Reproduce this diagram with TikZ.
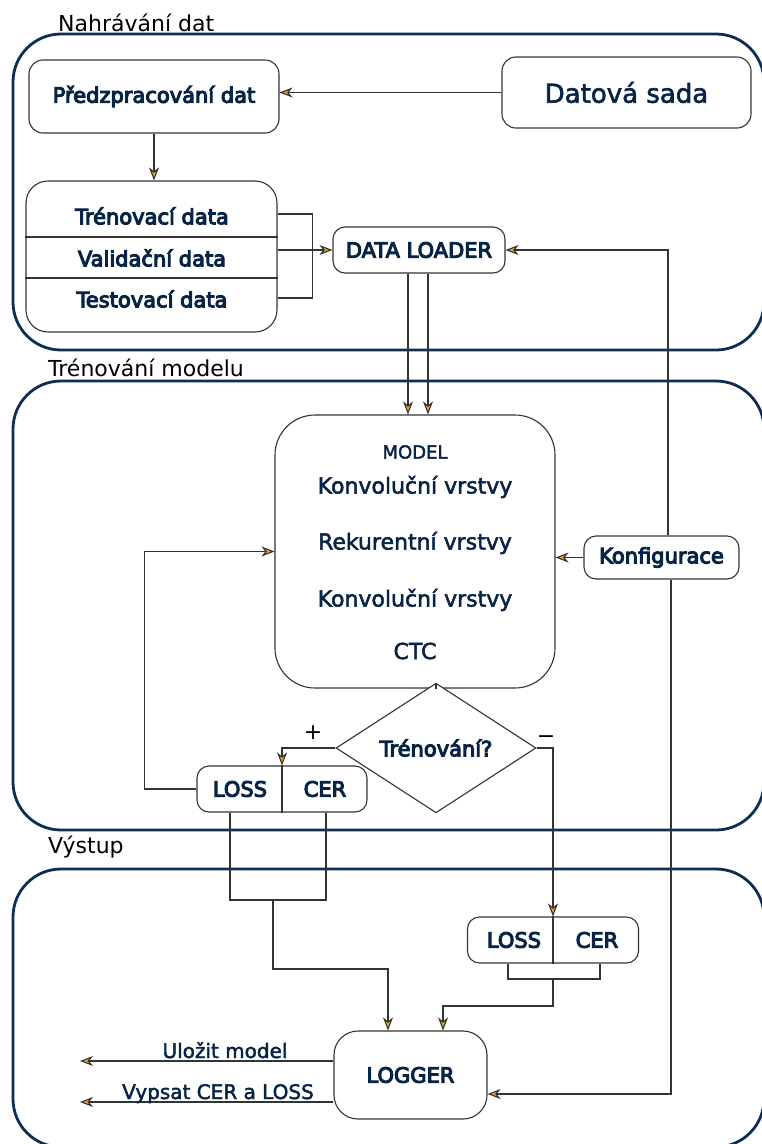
\documentclass[tikz,border=0pt]{standalone}
\usepackage{fontspec}
\setmainfont{DejaVu Sans}
\newfontfamily\heavyfont{DejaVu Sans}[FakeBold=5]
\newfontfamily\mediumfont{DejaVu Sans}[FakeBold=2.2]
\usetikzlibrary{arrows.meta,shapes.geometric}
\begin{document}
\begin{tikzpicture}[x=1pt,y=-1pt,
  frame/.style={draw=framec,line width=2.8pt,rounded corners=48},
  box/.style={draw=edge,line width=1.1pt,rounded corners=14,fill=white,inner sep=0pt},
  lbl/.style={text=ink,font=\heavyfont\fontsize{21}{25}\selectfont},
  lyr/.style={text=ink,font=\mediumfont\fontsize{22}{26}\selectfont},
  grp/.style={text=black,font=\fontsize{22}{26}\selectfont,anchor=base west,inner sep=0pt},
  sgn/.style={text=black,font=\fontsize{22}{26}\selectfont,inner sep=0pt},
  wire/.style={draw=edge,line width=1.1pt},
  flow/.style={wire,-{Stealth[length=13pt,width=10pt,inset=4pt,fill=tip]}}]
\definecolor{ink}{HTML}{082444}\definecolor{framec}{HTML}{0E2D52}
\definecolor{edge}{HTML}{333333}\definecolor{tip}{HTML}{F5A21E}
\useasboundingbox (0,0) rectangle (761,1144);
\draw[frame] (13,34) rectangle (764,350);
\draw[frame] (13,381) rectangle (764,830);
\draw[frame] (13,869) rectangle (764,1147);
\node[grp] (gload) at (58,31) {Nahrávání dat};
\node[grp] (gtrain) at (48,376) {Trénování modelu};
\node[grp] (gout) at (48,853) {Výstup};
\node[box,lbl,minimum width=250,minimum height=73] (prep) at (154,96.5) {Předzpracování dat};
\node[box,lyr,font=\mediumfont\fontsize{26}{30}\selectfont,minimum width=249,minimum height=71] (dataset) at (626.5,92.5) {Datová sada};
\node[box,rounded corners=22,minimum width=251,minimum height=151] (split) at (151.5,256.5) {};
\draw[wire] (split.west |- 0,237) -- (split.east |- 0,237);
\draw[wire] (split.west |- 0,278) -- (split.east |- 0,278);
\node[lbl] (trainset) at (152,216) {Trénovací data};
\node[lbl] (valset) at (152,258) {Validační data};
\node[lbl] (testset) at (152,299) {Testovací data};
\node[box,lbl,rounded corners=12,minimum width=172,minimum height=46] (loader) at (419,250) {DATA LOADER};
\node[box,rounded corners=40,minimum width=280,minimum height=273] (model) at (415,551.5) {};
\node[lyr,font=\mediumfont\fontsize{18}{22}\selectfont] (mtitle) at (415,452) {MODEL};
\node[lyr] (conva) at (415,487) {Konvoluční vrstvy};
\node[lyr] (recur) at (415,543) {Rekurentní vrstvy};
\node[lyr] (convb) at (415,600) {Konvoluční vrstvy};
\node[lyr] (ctc) at (415,651) {CTC};
\node[box,lbl,rounded corners=12,minimum width=155,minimum height=43] (config) at (661.5,557.5) {Konfigurace};
\node[diamond,draw=edge,line width=1.1pt,fill=white,inner sep=0pt,minimum width=200,minimum height=92,lbl] (decide) at (436,748) {Trénování?};
\node[sgn] (plus) at (313,733) {+};
\node[sgn] (minus) at (546,740) {−};
\node[box,rounded corners=12,minimum width=170,minimum height=46] (resa) at (282,789) {};
\draw[wire] (resa.north) -- (resa.south);
\node[lbl] (lossa) at (240,789) {LOSS};
\node[lbl] (cera) at (325,789) {CER};
\node[box,rounded corners=12,minimum width=171,minimum height=46] (resb) at (553,940) {};
\draw[wire] (resb.north) -- (resb.south);
\node[lbl] (lossb) at (514,940) {LOSS};
\node[lbl] (cerb) at (597,940) {CER};
\node[box,lbl,rounded corners=24,minimum width=153,minimum height=88] (logger) at (410.5,1075) {LOGGER};
\coordinate (joina) at (273,900);
\coordinate (joinb) at (553,979);
\coordinate (savemodel) at (80,1061);
\coordinate (printout) at (80,1102);
\draw[flow] (dataset.west) -- (dataset.west -| prep.east);
\draw[flow] (prep.south) -- (prep.south |- split.north);
\draw[wire] (split.east |- 0,214) -- ++(35,0) |- (split.east |- 0,298);
\draw[flow] (split.east |- loader) -- (loader.west);
\draw[flow] ([xshift=-11]loader.south) -- ([xshift=-11]loader.south |- model.north);
\draw[flow] ([xshift=9]loader.south) -- ([xshift=9]loader.south |- model.north);
\draw[flow] ([xshift=6.5]config.north) |- (loader.east);
\draw[flow] (config.west) -- (config.west -| model.east);
\draw[flow] ([xshift=9.5]config.south) |- ([yshift=-19pt]logger.east);
\draw[wire] (decide.north |- model.south) -- (decide.north);
\draw[flow] (decide.west) -| (resa.north);
\draw[flow] (decide.east) -| (resb.north);
\draw[flow] (resa.west) -- ++(-52,0) |- (model.west);
\draw[wire] ([xshift=-52]resa.south) |- (joina) -| ([xshift=44]resa.south);
\draw[flow] (joina) -- ++(0,69) -| ([xshift=-22.5]logger.north);
\draw[wire] ([xshift=-45]resb.south) |- (joinb) -| ([xshift=47]resb.south);
\draw[flow] (joinb) -- ++(0,27) -| ([xshift=32.5]logger.north);
\draw[flow] (logger.west |- savemodel) -- (savemodel);
\draw[flow] (logger.west |- printout) -- (printout);
\node[lyr,font=\mediumfont\fontsize{20}{24}\selectfont,anchor=base,inner sep=0pt] (savelbl) at (225,1058) {Uložit model};
\node[lyr,font=\mediumfont\fontsize{20}{24}\selectfont,anchor=base,inner sep=0pt] (printlbl) at (218,1099) {Vypsat CER a LOSS};
\end{tikzpicture}
\end{document}
